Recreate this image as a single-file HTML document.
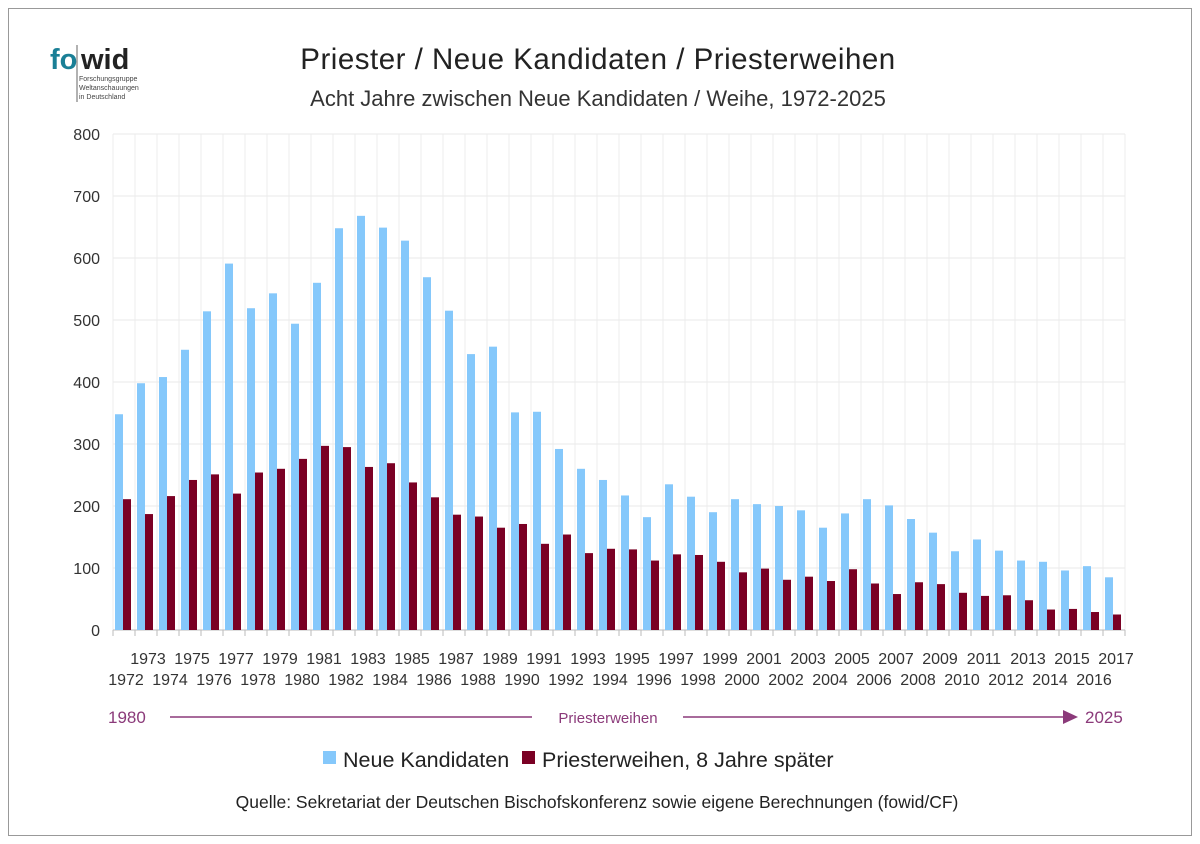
<!DOCTYPE html><html><head><style>body{margin:0;background:#fff}svg{display:block;font-family:"Liberation Sans",sans-serif}</style></head><body>
<svg width="1200" height="844" xmlns="http://www.w3.org/2000/svg">
<rect x="8.5" y="8.5" width="1183" height="827" fill="#fff" stroke="#999"/>
<text x="50" y="69" font-size="29" font-weight="bold" fill="#1a7f96">fo</text>
<text x="81" y="69" font-size="29" font-weight="bold" fill="#222">wid</text>
<line x1="77" y1="45" x2="77" y2="102" stroke="#666"/>
<text x="79" y="81" font-size="7" fill="#444">Forschungsgruppe</text>
<text x="79" y="90" font-size="7" fill="#444">Weltanschauungen</text>
<text x="79" y="99" font-size="7" fill="#444">in Deutschland</text>
<text x="598" y="69" font-size="29.5" text-anchor="middle" fill="#222" letter-spacing="0.5">Priester / Neue Kandidaten / Priesterweihen</text>
<text x="598" y="106" font-size="22" text-anchor="middle" fill="#333">Acht Jahre zwischen Neue Kandidaten / Weihe, 1972-2025</text>
<g id="g"></g>
<text x="608" y="723" font-size="15" text-anchor="middle" fill="#8b3a7a">Priesterweihen</text>
<text x="108" y="723" font-size="17" fill="#8b3a7a">1980</text>
<text x="1085" y="723" font-size="17" fill="#8b3a7a">2025</text>
<line x1="170" y1="717" x2="532" y2="717" stroke="#8b3a7a" stroke-width="1.5"/>
<line x1="683" y1="717" x2="1065" y2="717" stroke="#8b3a7a" stroke-width="1.5"/>
<polygon points="1063,710 1078,717 1063,724" fill="#8b3a7a"/>
<rect x="323" y="751" width="13" height="13" fill="#85c8fb"/>
<text x="343" y="767" font-size="21.5" fill="#222">Neue Kandidaten</text>
<rect x="522" y="751" width="13" height="13" fill="#7a0024"/>
<text x="542" y="767" font-size="21.5" fill="#222">Priesterweihen, 8 Jahre später</text>
<text x="597" y="808" font-size="17.5" text-anchor="middle" fill="#222">Quelle: Sekretariat der Deutschen Bischofskonferenz sowie eigene Berechnungen (fowid/CF)</text>
</svg>
<script>
const b=[348,398,408,452,514,591,519,543,494,560,648,668,649,628,569,515,445,457,351,352,292,260,242,217,182,235,215,190,211,203,200,193,165,188,211,201,179,157,127,146,128,112,110,96,103,85];
const r=[211,187,216,242,251,220,254,260,276,297,295,263,269,238,214,186,183,165,171,139,154,124,131,130,112,122,121,110,93,99,81,86,79,98,75,58,77,74,60,55,56,48,33,34,29,25];
let s='';const x0=113,w=22,y0=630,k=0.62;
for(let i=0;i<=8;i++){const y=y0-i*62;s+=`<line x1="${x0}" y1="${y}" x2="1125" y2="${y}" stroke="#e8e8e8"/><text x="100" y="${y+6}" font-size="16" text-anchor="end" fill="#333">${i*100}</text>`;}
for(let i=0;i<=46;i++){const x=x0+i*w;s+=`<line x1="${x}" y1="134" x2="${x}" y2="630" stroke="#ececec"/><line x1="${x}" y1="630" x2="${x}" y2="636" stroke="#bbb"/>`;}
s+=`<line x1="${x0}" y1="630" x2="1125" y2="630" stroke="#bbb"/>`;
for(let i=0;i<46;i++){const x=x0+i*w;s+=`<rect x="${x+2}" y="${y0-b[i]*k}" width="8" height="${b[i]*k}" fill="#85c8fb"/><rect x="${x+10}" y="${y0-r[i]*k}" width="8" height="${r[i]*k}" fill="#7a0024"/>`;
s+=`<text x="${x+13}" y="${i%2?664:685}" font-size="16" text-anchor="middle" fill="#333">${1972+i}</text>`;}
document.getElementById('g').innerHTML=s;
</script>
</body></html>
